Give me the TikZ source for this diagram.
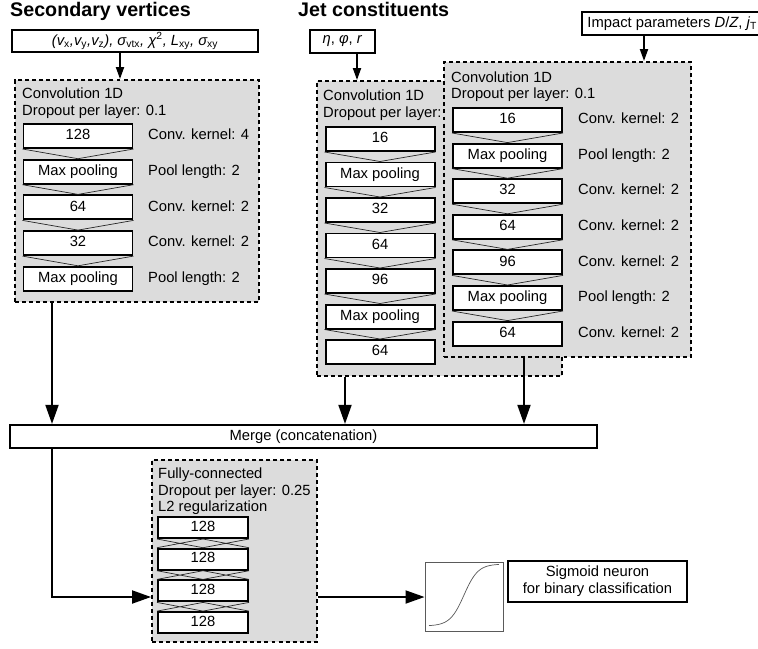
\documentclass[tikz,border=0pt]{standalone}
\usepackage{fontspec}
\setmainfont{Liberation Sans}
\usepackage{tikz}
\usetikzlibrary{arrows.meta}
\definecolor{panel}{RGB}{220,220,220}
\definecolor{curve}{RGB}{90,90,90}

\begin{document}
\begin{tikzpicture}[x=0.3mm,y=-0.3mm,
   font=\fontsize{12.6}{14.5}\selectfont,
   layer/.style={draw,line width=1.7pt,fill=white,minimum width=32.7mm,
     minimum height=7.2mm,inner sep=0pt,text height=9pt,text depth=2.6pt},
   fclayer/.style={layer,minimum width=27mm,minimum height=6.3mm},
   group/.style={draw,line width=1.6pt,dash pattern=on 3.4pt off 2.6pt,
     fill=panel,inner sep=0pt},
   inbox/.style={draw,line width=1.9pt,fill=white,inner sep=0pt},
   title/.style={font=\fontsize{16.8}{20}\selectfont\bfseries,
     anchor=base west,inner sep=0pt},
   note/.style={anchor=base west,inner sep=0pt},
   side/.style={anchor=west,inner sep=0pt,text height=9pt,text depth=2.6pt}]

\tikzstyle {link} = [line width=0.6pt, black!85];
\tikzstyle {feed} = [-{Triangle[length=3.6mm,width=2.4mm]}, line width=1.6pt];
\tikzstyle {flow} = [-{Triangle[length=5.7mm,width=3.9mm]}, line width=1.6pt];

\useasboundingbox (0,0) rectangle (758,648);

% inputs
\node[title] (t1) at (10,17) {Secondary vertices};
\node[title] (t2) at (298,17) {Jet constituents};
\node[inbox,minimum width=73.8mm,minimum height=6.6mm] (sv) at (135,41)
  {\itshape (v\textsubscript{\upshape x},v\textsubscript{\upshape y},v\textsubscript{\upshape z}), σ\textsubscript{\upshape vtx}, χ\textsuperscript{\upshape 2}, L\textsubscript{\upshape xy}, σ\textsubscript{\upshape xy}};
\node[inbox,minimum width=19.5mm,minimum height=6.9mm] (jc) at (342.5,41.5)
  {\textit{η}, \textit{φ}, \textit{r}};
\node[inbox,minimum height=6.9mm,anchor=west,inner xsep=1.6mm] (ip) at (581,23.5)
  {Impact parameters \textit{D}/\textit{Z}, \textit{j}\textsubscript{T}};

% secondary vertices branch
\node[group,minimum width=73.2mm,minimum height=66.6mm] (g1) at (137,191) {};
\node[note] (g1a) at (22,98) {Convolution 1D};
\node[note] (g1b) at (22,115) {Dropout per layer: 0.1};
\node[layer] (s1) at (78,136) {128};
\node[layer] (s2) at (78,171.7) {Max pooling};
\node[layer] (s3) at (78,207.4) {64};
\node[layer] (s4) at (78,243.1) {32};
\node[layer] (s5) at (78,278.8) {Max pooling};
\node[side] (k1) at (148,136) {Conv. kernel: 4};
\node[side] (k2) at (148,171.7) {Pool length: 2};
\node[side] (k3) at (148,207.4) {Conv. kernel: 2};
\node[side] (k4) at (148,243.1) {Conv. kernel: 2};
\node[side] (k5) at (148,278.8) {Pool length: 2};

\draw[link] (s1.south west) -- (s2.north) -- (s1.south east);
\draw[link] (s2.south west) -- (s3.north) -- (s2.south east);
\draw[link] (s3.south west) -- (s4.north) -- (s3.south east);
\draw[link] (s4.south west) -- (s5.north) -- (s4.south east);

% jet constituents branch
\node[group,minimum width=73.5mm,minimum height=88.5mm] (g2) at (439.5,228.5) {};
\node[note] (g2a) at (323,100) {Convolution 1D};
\node[note] (g2b) at (323,117) {Dropout per layer:};
\node[layer] (j1) at (380,139) {16};
\node[layer] (j2) at (380,174.5) {Max pooling};
\node[layer] (j3) at (380,210) {32};
\node[layer] (j4) at (380,245.5) {64};
\node[layer] (j5) at (380,281) {96};
\node[layer] (j6) at (380,316.5) {Max pooling};
\node[layer] (j7) at (380,352) {64};

\draw[link] (j1.south west) -- (j2.north) -- (j1.south east);
\draw[link] (j2.south west) -- (j3.north) -- (j2.south east);
\draw[link] (j3.south west) -- (j4.north) -- (j3.south east);
\draw[link] (j4.south west) -- (j5.north) -- (j4.south east);
\draw[link] (j5.south west) -- (j6.north) -- (j5.south east);
\draw[link] (j6.south west) -- (j7.north) -- (j6.south east);

% impact parameter branch
\node[group,minimum width=74.1mm,minimum height=88.5mm] (g3) at (567.5,209.5) {};
\node[note] (g3a) at (451,82) {Convolution 1D};
\node[note] (g3b) at (451,98) {Dropout per layer: 0.1};
\node[layer] (d1) at (507.5,120) {16};
\node[layer] (d2) at (507.5,155.6) {Max pooling};
\node[layer] (d3) at (507.5,191.2) {32};
\node[layer] (d4) at (507.5,226.8) {64};
\node[layer] (d5) at (507.5,262.4) {96};
\node[layer] (d6) at (507.5,298) {Max pooling};
\node[layer] (d7) at (507.5,333.6) {64};
\node[side] (q1) at (578,120) {Conv. kernel: 2};
\node[side] (q2) at (578,155.6) {Pool length: 2};
\node[side] (q3) at (578,191.2) {Conv. kernel: 2};
\node[side] (q4) at (578,226.8) {Conv. kernel: 2};
\node[side] (q5) at (578,262.4) {Conv. kernel: 2};
\node[side] (q6) at (578,298) {Pool length: 2};
\node[side] (q7) at (578,333.6) {Conv. kernel: 2};

\draw[link] (d1.south west) -- (d2.north) -- (d1.south east);
\draw[link] (d2.south west) -- (d3.north) -- (d2.south east);
\draw[link] (d3.south west) -- (d4.north) -- (d3.south east);
\draw[link] (d4.south west) -- (d5.north) -- (d4.south east);
\draw[link] (d5.south west) -- (d6.north) -- (d5.south east);
\draw[link] (d6.south west) -- (d7.north) -- (d6.south east);

% merge and dense part
\node[inbox,minimum width=176.1mm,minimum height=6.9mm] (merge) at (303.5,436.5)
  {Merge (concatenation)};

\node[group,minimum width=49.5mm,minimum height=54.6mm] (g4) at (234.5,551) {};
\node[note] (g4a) at (158,478) {Fully-connected};
\node[note] (g4b) at (158,495) {Dropout per layer: 0.25};
\node[note] (g4c) at (158,511) {L2 regularization};
\node[fclayer] (f1) at (203,527.5) {128};
\node[fclayer] (f2) at (203,559.2) {128};
\node[fclayer] (f3) at (203,590.9) {128};
\node[fclayer] (f4) at (203,622.6) {128};

\draw[link] (f1.south west) -- (f2.north) (f1.south) -- (f2.north west)
            (f1.south) -- (f2.north east) (f1.south east) -- (f2.north);
\draw[link] (f2.south west) -- (f3.north) (f2.south) -- (f3.north west)
            (f2.south) -- (f3.north east) (f2.south east) -- (f3.north);
\draw[link] (f3.south west) -- (f4.north) (f3.south) -- (f4.north west)
            (f3.south) -- (f4.north east) (f3.south east) -- (f4.north);

\node[draw=curve,line width=0.8pt,fill=white,minimum width=23.4mm,
  minimum height=20.7mm,inner sep=0pt] (sg) at (464,596.5) {};
\draw[curve,line width=0.6pt] plot[domain=-1:1,samples=40]
  ({464+35*\x},{595-31*(2/(1+exp(-5*\x))-1)});
\node[inbox,minimum width=53.7mm,minimum height=12.3mm,align=center] (lb)
  at (597.5,581.5) {Sigmoid neuron\\for binary classification};

% connectors
\coordinate (in1) at (120,0);
\coordinate (in2) at (357,0);
\coordinate (in3) at (644,0);
\coordinate (col1) at (52,0);
\coordinate (col2) at (345,0);
\coordinate (col3) at (524,0);
\coordinate (fcin) at (0,597);

\draw[feed] (in1 |- sv.south) -- (in1 |- g1.north);
\draw[feed] (in2 |- jc.south) -- (in2 |- g2.north);
\draw[feed] (in3 |- ip.south) -- (in3 |- g3.north);

\draw[flow] (col1 |- g1.south) -- (col1 |- merge.north);
\draw[flow] (col2 |- g2.south) -- (col2 |- merge.north);
\draw[flow] (col3 |- g3.south) -- (col3 |- merge.north);

\draw[flow] (col1 |- merge.south) |- (fcin -| g4.west);
\draw[flow] (fcin -| g4.east) -- (fcin -| sg.west);

\end{tikzpicture}
\end{document}
